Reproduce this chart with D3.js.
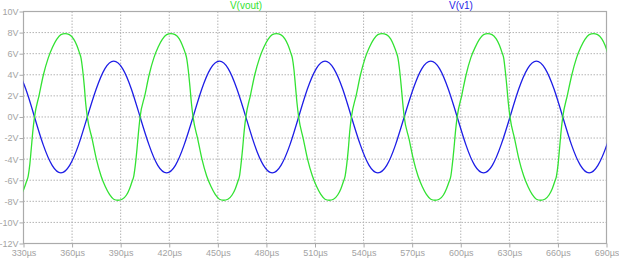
<!DOCTYPE html>
<html><head><meta charset="utf-8">
<script src="https://cdn.jsdelivr.net/npm/d3@7"></script>
<style>body{margin:0;background:#fff}svg{display:block}</style>
</head><body>
<svg id="c" width="619" height="260"></svg>
<script>
// ---- data ----
const timeTicks = [330,360,390,420,450,480,510,540,570,600,630,660,690];
const timeTickLabels = ["330µs","360µs","390µs","420µs","450µs","480µs","510µs","540µs","570µs","600µs","630µs","660µs","690µs"];
const voltTicks = [-12,-10,-8,-6,-4,-2,0,2,4,6,8,10];
const voltTickLabels = ["-12V","-10V","-8V","-6V","-4V","-2V","0V","2V","4V","6V","8V","10V"];
const seriesNames = ["V(vout)","V(v1)"];

// V(v1): time (µs), value (V)
const v1Time = [325.9,331.4,336.8,342.2,347.7,353.1,358.5,364.0,369.4,374.9,380.3,385.7,391.2,396.6,
 402.0,407.5,412.9,418.4,423.8,429.2,434.7,440.1,445.5,451.0,456.4,461.8,
 467.3,472.7,478.2,483.6,489.0,494.5,499.9,505.3,510.8,516.2,521.6,527.1,
 532.5,538.0,543.4,548.8,554.3,559.7,565.1,570.6,576.0,581.5,586.9,592.3,
 597.8,603.2,608.6,614.1,619.5,624.9,630.4,635.8,641.3,646.7,652.1,657.6,
 663.0,668.4,673.9,679.3,684.7,690.2,695.6];
const v1Value = [4.59,2.65,0,-2.65,-4.59,-5.3,-4.59,-2.65,0,2.65,4.59,5.3,4.59,2.65,
 0,-2.65,-4.59,-5.3,-4.59,-2.65,0,2.65,4.59,5.3,4.59,2.65,
 0,-2.65,-4.59,-5.3,-4.59,-2.65,0,2.65,4.59,5.3,4.59,2.65,
 0,-2.65,-4.59,-5.3,-4.59,-2.65,0,2.65,4.59,5.3,4.59,2.65,
 0,-2.65,-4.59,-5.3,-4.59,-2.65,0,2.65,4.59,5.3,4.59,2.65,
 0,-2.65,-4.59,-5.3,-4.59,-2.65,0];

// V(vout): [time (µs), value (V)]
const vout = [
 [325.7,-7.8],[328.3,-7.4],[330.3,-6.8],[331.9,-6.1],[332.9,-5.6],[333.9,-4.5],[334.8,-3.0],[335.8,-1.3],
 [336.8,0],[339.7,2.1],[342.3,4.0],[345.3,5.6],[347.9,6.6],[350.5,7.35],[353.1,7.8],[355.7,7.9],
 [358.3,7.8],[360.9,7.4],[362.9,6.8],[364.5,6.1],[365.5,5.6],[366.5,4.5],[367.5,3.0],[368.4,1.3],
 [369.4,0],[372.4,-2.1],[375.0,-4.0],[377.9,-5.6],[380.5,-6.6],[383.1,-7.35],[385.7,-7.8],[388.3,-7.9],
 [390.9,-7.8],[393.6,-7.4],[395.5,-6.8],[397.1,-6.1],[398.1,-5.6],[399.1,-4.5],[400.1,-3.0],[401.1,-1.3],
 [402.0,0],[405.0,2.1],[407.6,4.0],[410.5,5.6],[413.1,6.6],[415.7,7.35],[418.4,7.8],[421.0,7.9],
 [423.6,7.8],[426.2,7.4],[428.1,6.8],[429.8,6.1],[430.7,5.6],[431.7,4.5],[432.7,3.0],[433.7,1.3],
 [434.7,0],[437.6,-2.1],[440.2,-4.0],[443.1,-5.6],[445.8,-6.6],[448.4,-7.35],[451.0,-7.8],[453.6,-7.9],
 [456.2,-7.8],[458.8,-7.4],[460.8,-6.8],[462.4,-6.1],[463.4,-5.6],[464.3,-4.5],[465.3,-3.0],[466.3,-1.3],
 [467.3,0],[470.2,2.1],[472.8,4.0],[475.8,5.6],[478.4,6.6],[481.0,7.35],[483.6,7.8],[486.2,7.9],
 [488.8,7.8],[491.4,7.4],[493.4,6.8],[495.0,6.1],[496.0,5.6],[497.0,4.5],[497.9,3.0],[498.9,1.3],
 [499.9,0],[502.8,-2.1],[505.4,-4.0],[508.4,-5.6],[511.0,-6.6],[513.6,-7.35],[516.2,-7.8],[518.8,-7.9],
 [521.4,-7.8],[524.0,-7.4],[526.0,-6.8],[527.6,-6.1],[528.6,-5.6],[529.6,-4.5],[530.6,-3.0],[531.5,-1.3],
 [532.5,0],[535.5,2.1],[538.1,4.0],[541.0,5.6],[543.6,6.6],[546.2,7.35],[548.8,7.8],[551.4,7.9],
 [554.1,7.8],[556.7,7.4],[558.6,6.8],[560.3,6.1],[561.2,5.6],[562.2,4.5],[563.2,3.0],[564.2,1.3],
 [565.1,0],[568.1,-2.1],[570.7,-4.0],[573.6,-5.6],[576.2,-6.6],[578.8,-7.35],[581.5,-7.8],[584.1,-7.9],
 [586.7,-7.8],[589.3,-7.4],[591.2,-6.8],[592.9,-6.1],[593.9,-5.6],[594.8,-4.5],[595.8,-3.0],[596.8,-1.3],
 [597.8,0],[600.7,2.1],[603.3,4.0],[606.2,5.6],[608.9,6.6],[611.5,7.35],[614.1,7.8],[616.7,7.9],
 [619.3,7.8],[621.9,7.4],[623.9,6.8],[625.5,6.1],[626.5,5.6],[627.4,4.5],[628.4,3.0],[629.4,1.3],
 [630.4,0],[633.3,-2.1],[635.9,-4.0],[638.9,-5.6],[641.5,-6.6],[644.1,-7.35],[646.7,-7.8],[649.3,-7.9],
 [651.9,-7.8],[654.5,-7.4],[656.5,-6.8],[658.1,-6.1],[659.1,-5.6],[660.1,-4.5],[661.0,-3.0],[662.0,-1.3],
 [663.0,0],[665.9,2.1],[668.6,4.0],[671.5,5.6],[674.1,6.6],[676.7,7.35],[679.3,7.8],[681.9,7.9],
 [684.5,7.8],[687.1,7.4],[689.1,6.8],[690.7,6.1],[691.7,5.6]
];

// ---- drawing ----
const W = 619, H = 260;
const L = 23.5, R = 606.5, T = 11.5, B = 243.5;
const gridColor = "#b4b4b4", frameColor = "#ababab", textColor = "#a3a3a3";
const greenColor = "#33e233", blueColor = "#1e1ee6";
const font = "'Liberation Sans', Arial, sans-serif";

const svg = d3.select("#c");
svg.append("rect").attr("width", W).attr("height", H).attr("fill", "#fff");

const x = d3.scaleLinear().domain([330, 690]).range([L, R]);
const y = d3.scaleLinear().domain([-12, 10]).range([B, T]);

// grid
const grid = svg.append("g");
grid.selectAll("line.v").data(timeTicks.slice(1, -1)).join("line")
  .attr("x1", d => x(d)).attr("x2", d => x(d)).attr("y1", T).attr("y2", B)
  .attr("stroke", gridColor).attr("stroke-width", 1).attr("stroke-dasharray", "1.5,1.5");
grid.selectAll("line.h").data(voltTicks.slice(1, -1)).join("line")
  .attr("x1", L).attr("x2", R).attr("y1", d => y(d)).attr("y2", d => y(d))
  .attr("stroke", gridColor).attr("stroke-width", 1).attr("stroke-dasharray", "1.5,1.5");

// axes
const xAxis = d3.axisBottom(x).tickValues(timeTicks)
  .tickFormat((d, i) => timeTickLabels[i]).tickSize(4).tickPadding(2);
const yAxis = d3.axisLeft(y).tickValues(voltTicks)
  .tickFormat((d, i) => voltTickLabels[i]).tickSize(4).tickPadding(1);

const gx = svg.append("g").attr("transform", `translate(0,${B})`).call(xAxis);
const gy = svg.append("g").attr("transform", `translate(${L},0)`).call(yAxis);
[gx, gy].forEach(g => {
  g.select(".domain").remove();
  g.selectAll(".tick line").attr("stroke", frameColor);
  g.selectAll(".tick text").attr("fill", textColor)
    .style("font-family", font).style("font-size", "9px");
});

// frame
svg.append("rect").attr("x", L).attr("y", T).attr("width", R - L).attr("height", B - T)
  .attr("fill", "none").attr("stroke", frameColor).attr("stroke-width", 1.2);

// clip
svg.append("clipPath").attr("id", "plot").append("rect")
  .attr("x", L).attr("y", T).attr("width", R - L).attr("height", B - T);

const plot = svg.append("g").attr("clip-path", "url(#plot)");

const v1Data = v1Time.map((t, i) => [t, v1Value[i]]);
const lineSmooth = d3.line().x(d => x(d[0])).y(d => y(d[1])).curve(d3.curveNatural);
const lineMono = d3.line().x(d => x(d[0])).y(d => y(d[1])).curve(d3.curveMonotoneX);

plot.append("path").datum(v1Data).attr("d", lineSmooth)
  .attr("fill", "none").attr("stroke", blueColor).attr("stroke-width", 1.3);
plot.append("path").datum(vout).attr("d", lineMono)
  .attr("fill", "none").attr("stroke", greenColor).attr("stroke-width", 1.3);

// series titles
svg.append("text").attr("x", 246).attr("y", 9).attr("text-anchor", "middle")
  .attr("fill", greenColor).style("font-family", font).style("font-size", "10px").text(seriesNames[0]);
svg.append("text").attr("x", 461).attr("y", 9).attr("text-anchor", "middle")
  .attr("fill", blueColor).style("font-family", font).style("font-size", "10px").text(seriesNames[1]);
</script>
</body></html>
